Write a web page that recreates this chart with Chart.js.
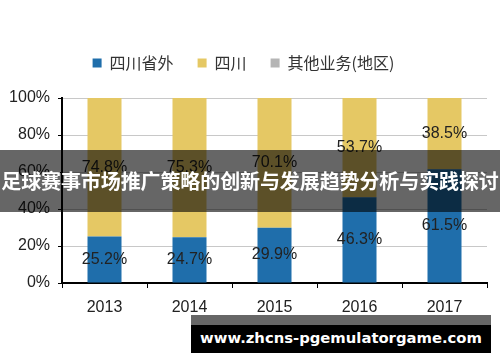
<!DOCTYPE html>
<html>
<head>
<meta charset="utf-8">
<script src="https://cdn.jsdelivr.net/npm/chart.js@4.4.0/dist/chart.umd.min.js"></script>
<style>
  html, body { margin: 0; padding: 0; background: #fff; }
  #wrap { position: relative; width: 500px; height: 362px; overflow: hidden; }
  #band {
    position: absolute; left: 0; top: 150px; width: 500px; height: 62px;
    background: rgba(0, 0, 0, 0.6); color: #fff;
    font: bold 20px "Noto Sans CJK SC", sans-serif;
    line-height: 62px; white-space: nowrap; text-align: center; letter-spacing: -0.1px;
  }
  #mark {
    position: absolute; left: 191px; top: 315px; width: 300px; height: 38px;
    background: #000; border-top: 10px solid #666; box-sizing: border-box;
    color: #fff; font: bold 14.8px "DejaVu Sans", sans-serif;
    line-height: 26px; text-align: center; white-space: nowrap;
  }
</style>
</head>
<body>
<div id="wrap">
  <canvas id="chart" width="500" height="362"></canvas>
  <div id="band">足球赛事市场推广策略的创新与发展趋势分析与实践探讨</div>
  <div id="mark">www.zhcns-pgemulatorgame.com</div>
</div>
<script>
const years = ['2013', '2014', '2015', '2016', '2017'];
const outside = [25.2, 24.7, 29.9, 46.3, 61.5];
const sichuan = [74.8, 75.3, 70.1, 53.7, 38.5];
const other = [0, 0, 0, 0, 0];
const yTicks = [0, 20, 40, 60, 80, 100];

// draws the percentage in the middle of each segment
const segLabels = {
  id: 'segLabels',
  afterDatasetsDraw(chart) {
    const ctx = chart.ctx;
    ctx.save();
    ctx.font = '16px "Liberation Sans", Arial, sans-serif';
    ctx.fillStyle = '#222';
    ctx.textAlign = 'center';
    ctx.textBaseline = 'middle';
    chart.data.datasets.forEach((ds, i) => {
      chart.getDatasetMeta(i).data.forEach((bar, j) => {
        const v = ds.data[j];
        if (!v) return;
        ctx.fillText(v.toFixed(1) + '%', bar.x, (bar.y + bar.base) / 2);
      });
    });
    ctx.restore();
  }
};

// extra room between legend and plot
const legendGap = {
  id: 'legendGap',
  beforeInit(chart) {
    const fit = chart.legend.fit;
    chart.legend.fit = function () {
      fit.call(this);
      this.height += 17;
    };
  }
};

new Chart(document.getElementById('chart'), {
  type: 'bar',
  data: {
    labels: years,
    datasets: [
      { label: '四川省外', data: outside, backgroundColor: '#1f6eab' },
      { label: '四川', data: sichuan, backgroundColor: '#e5c864' },
      { label: '其他业务(地区)', data: other, backgroundColor: '#b5b5b5' }
    ]
  },
  options: {
    responsive: false,
    animation: false,
    layout: { padding: { left: 0, right: 13, top: 31, bottom: 0 } },
    datasets: { bar: { barPercentage: 0.4, categoryPercentage: 1.0 } },
    plugins: {
      tooltip: { enabled: false },
      legend: {
        position: 'top',
        labels: {
          boxWidth: 9, boxHeight: 9, padding: 24,
          color: '#333',
          font: { family: '"Noto Sans CJK SC", sans-serif', size: 16 }
        }
      }
    },
    scales: {
      x: {
        stacked: true,
        grid: { offset: true, drawOnChartArea: false, tickColor: '#000', tickLength: 5 },
        border: { color: '#000', width: 2 },
        ticks: { color: '#222', padding: 10, font: { family: '"Liberation Sans", Arial', size: 16 } },
        afterFit(s) { s.height = 79; }
      },
      y: {
        stacked: true,
        min: 0, max: 100,
        afterBuildTicks(s) { s.ticks = yTicks.map(v => ({ value: v })); },
        grid: { color: '#c8c8c8', tickColor: '#000', tickLength: 4 },
        border: { color: '#000', width: 2 },
        ticks: {
          color: '#222', padding: 8,
          font: { family: '"Liberation Sans", Arial', size: 16 },
          callback: v => v + '%'
        },
        afterFit(s) { s.width = 62; }
      }
    }
  },
  plugins: [segLabels, legendGap]
});
</script>
</body>
</html>
